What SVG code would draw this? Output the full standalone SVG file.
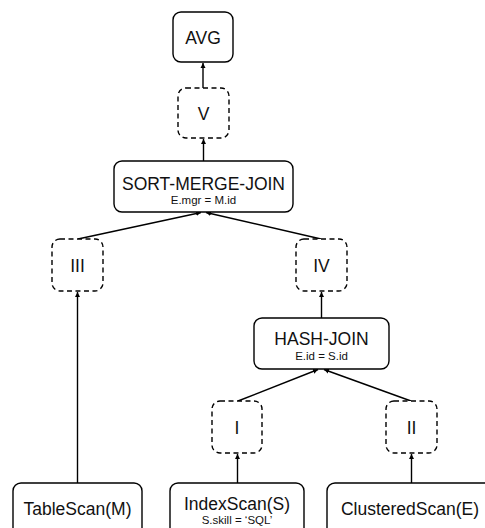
<svg xmlns="http://www.w3.org/2000/svg" width="485" height="528" viewBox="0 0 485 528">
<defs>
<marker id="ah" markerWidth="6" markerHeight="6" refX="5" refY="3" orient="auto" markerUnits="userSpaceOnUse">
<path d="M0,0.5 L5,3 L0,5.5 Z" fill="#000"/>
</marker>
<style>
.box{fill:#fff;stroke:#000;stroke-width:1.4}
.dash{fill:#fff;stroke:#000;stroke-width:1.4;stroke-dasharray:5 3.5}
.t{font-family:"Liberation Sans",Arial,sans-serif;font-size:17.5px;fill:#111;text-anchor:middle}
.s{font-family:"Liberation Sans",Arial,sans-serif;font-size:11.5px;fill:#111;text-anchor:middle}
.c{fill:none;stroke:#000;stroke-width:1.4;marker-end:url(#ah)}
</style>
</defs>
<g id="connectors">
<line class="c" x1="203" y1="88" x2="203" y2="63"/>
<line class="c" x1="203.5" y1="161" x2="203.5" y2="139"/>
<line class="c" x1="78" y1="239" x2="201" y2="212.5"/>
<line class="c" x1="321" y1="239" x2="206" y2="212.5"/>
<line class="c" x1="77.5" y1="483" x2="77.5" y2="292"/>
<line class="c" x1="321.5" y1="318" x2="321.5" y2="292"/>
<line class="c" x1="238" y1="401" x2="318" y2="369.5"/>
<line class="c" x1="411" y1="401" x2="324" y2="369.5"/>
<line class="c" x1="237.5" y1="483" x2="237.5" y2="454"/>
<line class="c" x1="411.5" y1="483" x2="411.5" y2="454"/>
</g>
<g id="avg"><rect class="box" x="173" y="12" width="60" height="50" rx="8"/><text class="t" x="203" y="44">AVG</text></g>
<g id="v"><rect class="dash" x="178" y="88" width="51" height="50" rx="8"/><text class="t" x="203.5" y="120">V</text></g>
<g id="smj"><rect class="box" x="114" y="161" width="179" height="51" rx="8"/><text class="t" x="203.5" y="190">SORT-MERGE-JOIN</text><text class="s" x="203.5" y="204">E.mgr = M.id</text></g>
<g id="iii"><rect class="dash" x="52" y="239" width="51" height="52" rx="8"/><text class="t" x="77.5" y="272">III</text></g>
<g id="iv"><rect class="dash" x="296" y="239" width="51" height="52" rx="8"/><text class="t" x="321.5" y="272">IV</text></g>
<g id="hj"><rect class="box" x="254" y="318" width="135" height="51" rx="8"/><text class="t" x="321.5" y="345">HASH-JOIN</text><text class="s" x="321.5" y="360">E.id = S.id</text></g>
<g id="i"><rect class="dash" x="212" y="401" width="50" height="52" rx="8"/><text class="t" x="237" y="434">I</text></g>
<g id="ii"><rect class="dash" x="386" y="401" width="51" height="52" rx="8"/><text class="t" x="411.5" y="434">II</text></g>
<g id="tablescan"><rect class="box" x="13" y="483" width="129" height="60" rx="8"/><text class="t" x="77.5" y="515">TableScan(M)</text></g>
<g id="indexscan"><rect class="box" x="170" y="483" width="134" height="60" rx="8"/><text class="t" x="237" y="510">IndexScan(S)</text><text class="s" x="237" y="524">S.skill = ‘SQL’</text></g>
<g id="clusteredscan"><rect class="box" x="327" y="483" width="168" height="60" rx="8"/><text class="t" x="410" y="515">ClusteredScan(E)</text></g>
</svg>
